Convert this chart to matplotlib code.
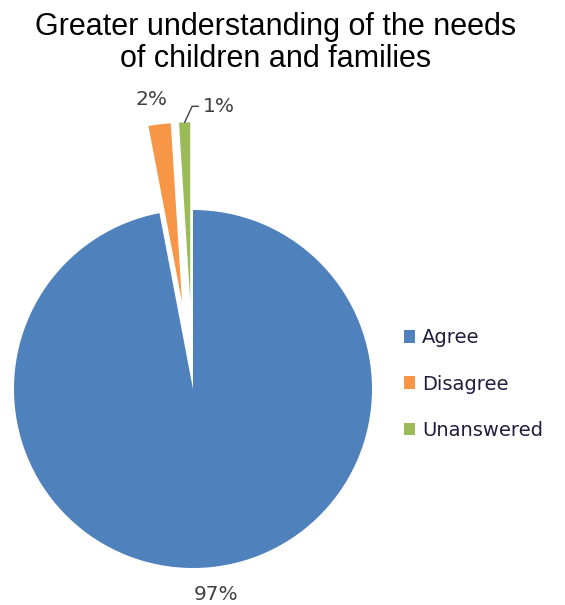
import numpy as np
import matplotlib.pyplot as plt
from matplotlib.patches import Rectangle

# survey answers
categories = ["Agree", "Disagree", "Unanswered"]
shares = [97, 2, 1]
pct_labels = ["97%", "2%", "1%"]
colors = ["#4F81BD", "#F79646", "#9BBB59"]
explode = [0.0, 0.49, 0.49]

W, H = 565, 605
fig = plt.figure(figsize=(W / 100, H / 100), dpi=100)

# square axes centred on the pie, 179 px per unit radius
cx, cy, scale = 193, 389, 179
lim = 1.55
half = lim * scale
ax = fig.add_axes([(cx - half) / W, (H - cy - half) / H, 2 * half / W, 2 * half / H])

wedges, _ = ax.pie(shares, colors=colors, explode=explode, startangle=90,
                   counterclock=False, radius=1.0,
                   wedgeprops=dict(linewidth=0))
# pie() resets the limits, so fix them afterwards
ax.set_xlim(-lim, lim)
ax.set_ylim(-lim, lim)
ax.set_aspect("equal")
ax.axis("off")

label_color = "#404040"
label_size = 14.5
for i, w in enumerate(wedges):
    mid = np.deg2rad((w.theta1 + w.theta2) / 2)
    ox, oy = w.center
    if i == 0:
        r = 1.155
        ax.text(ox + r * np.cos(mid) + 0.02, oy + r * np.sin(mid), pct_labels[i],
                ha="center", va="center", fontsize=label_size, color=label_color)
    elif i == 1:
        r = 1.14
        ax.text(ox + r * np.cos(mid) - 0.03, oy + r * np.sin(mid), pct_labels[i],
                ha="center", va="center", fontsize=label_size, color=label_color)
    else:
        tip = (ox + np.cos(mid), oy + np.sin(mid))
        ax.annotate(pct_labels[i], xy=tip, xytext=(tip[0] + 0.1, tip[1] + 0.09),
                    ha="left", va="center", fontsize=label_size, color=label_color,
                    arrowprops=dict(arrowstyle="-", color="#404040", lw=1.0,
                                    shrinkA=1, shrinkB=0,
                                    connectionstyle="angle,angleA=0,angleB=65,rad=0"))

fig.text(276 / W, 1 - 43 / H, "Greater understanding of the needs\nof children and families",
         ha="center", va="center", fontsize=22, family="Liberation Sans",
         linespacing=1.05, color="black")

handles = [Rectangle((0, 0), 1, 1, facecolor=c, edgecolor="none") for c in colors]
fig.legend(handles, categories, loc="center left",
           bbox_to_anchor=(386 / W, 1 - 384 / H), frameon=False,
           fontsize=14, handlelength=0.6, handleheight=0.6,
           handletextpad=0.35, labelspacing=1.4, labelcolor="#1F1F3F")

fig.savefig("out.png", dpi=100)
